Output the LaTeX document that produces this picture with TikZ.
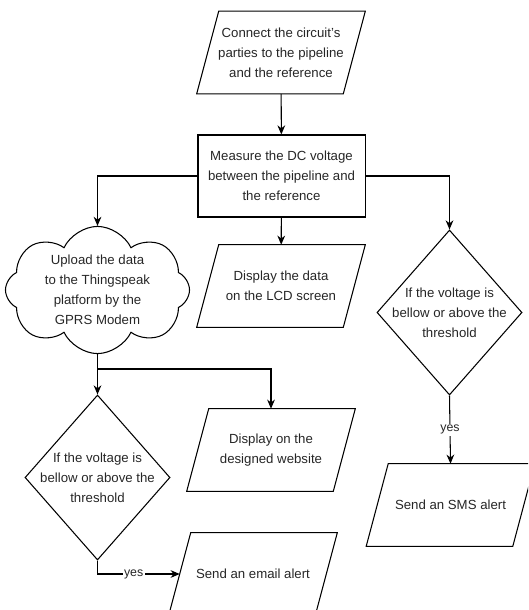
\documentclass[tikz,border=0pt]{standalone}
\usepackage{fontspec}
\setmainfont{Liberation Sans}
\usetikzlibrary{shapes.geometric,shapes.symbols,arrows.meta}

\begin{document}
\begin{tikzpicture}[x=0.025cm, y=-0.025cm,
  every node/.style={font=\fontsize{9.4pt}{14.2pt}\selectfont, text=black!85, align=center},
  io/.style={rectangle, minimum width=3.65cm, minimum height=2.05cm, inner sep=1pt},
  process/.style={draw, line width=0.75pt, rectangle, minimum width=4.175cm, minimum height=2.05cm, inner sep=1pt},
  decision/.style={draw, line width=0.75pt, diamond, minimum width=3.625cm, minimum height=4.125cm, inner sep=0pt},
  upload/.style={draw, line width=0.75pt, cloud, cloud puffs=8, cloud puff arc=130, cloud ignores aspect,
    minimum width=4.6cm, minimum height=2.8cm, inner sep=0pt},
  link/.style={line width=0.75pt, -{Stealth[length=6.5pt, width=5.5pt]}},
  yesnode/.style={fill=white, inner sep=1pt, font=\fontsize{8.8pt}{10pt}\selectfont}]
\useasboundingbox (0,0) rectangle (528,610);
\clip (0,0) rectangle (528,610);

% Main steps
\node[io] (start) at (281,52.5) {Connect the circuit's\\parties to the pipeline\\and the reference};
\node[process] (measure) at (281.5,176) {Measure the DC voltage\\between the pipeline and\\the reference};
\node[io] (lcd) at (281,286) {Display the data\\on the LCD screen};
\node[upload] (cloud) at (97.5,290) {Upload the data\\to the Thingspeak\\platform by the\\GPRS Modem};
\node[decision, label={center:If the voltage is\\bellow or above the\\threshold}] (dia2) at (449.5,312.5) {};

% Lower steps
\node[decision, label={center:If the voltage is\\bellow or above the\\threshold}] (dia1) at (97.5,477.5) {};
\node[io] (web) at (271,450) {Display on the\\designed website};
\node[io] (sms) at (450.5,505) {Send an SMS alert};
\node[io] (email) at (253,574) {Send an email alert};
\coordinate (split) at (97.5,369);

% Slanted outlines of the data boxes
\foreach \n in {start,lcd,web,sms,email}
  \draw[line width=0.75pt] ([xshift=-0.275cm]\n.south west) -- ([xshift=-0.275cm]\n.south east)
    -- ([xshift=0.275cm]\n.north east) -- ([xshift=0.275cm]\n.north west) -- cycle;

% Links
\draw[link] (start) -- (measure);
\draw[link] (measure) -- (lcd);
\draw[link] (measure.west) -| (cloud.north);
\draw[link] (measure.east) -| (dia2.north);
\draw[link] (cloud.south) -- (dia1.north);
\draw[link] (split) -| (web.north);
\draw[link] (dia1.south) |- node[yesnode, pos=0.72] {yes} (email.west);
\draw[link] (dia2.south) -- node[yesnode] {yes} (sms.north);

\end{tikzpicture}
\end{document}
